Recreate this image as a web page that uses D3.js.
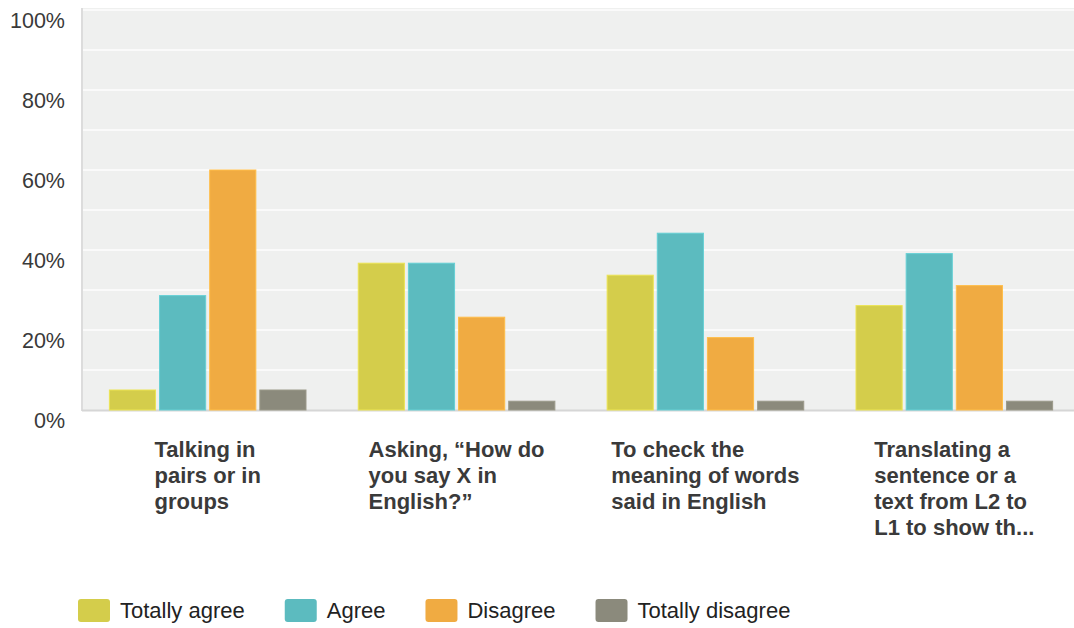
<!DOCTYPE html>
<html>
<head>
<meta charset="utf-8">
<script src="https://cdn.jsdelivr.net/npm/d3@7"></script>
<style>
  html, body { margin: 0; padding: 0; background: #ffffff; }
  svg { display: block; }
  text { font-family: "Liberation Sans", Arial, Helvetica, sans-serif; }
</style>
</head>
<body>
<svg id="chart" width="1074" height="628"></svg>
<script>
// Survey statements (each label is split into its wrapped lines)
const categories = [
  ["Talking in", "pairs or in", "groups"],
  ["Asking, \u201CHow do", "you say X in", "English?\u201D"],
  ["To check the", "meaning of words", "said in English"],
  ["Translating a", "sentence or a", "text from L2 to", "L1 to show th..."]
];
const seriesNames = ["Totally agree", "Agree", "Disagree", "Totally disagree"];
const seriesColors = ["#d4cd4b", "#5cbbbf", "#f0ab42", "#8b8a7c"];

// Percentage of respondents per statement, one array per answer
const totallyAgree    = [5.0, 36.7, 33.7, 26.1];
const agree           = [28.6, 36.7, 44.2, 39.1];
const disagree        = [60.0, 23.2, 18.1, 31.1];
const totallyDisagree = [5.0, 2.2, 2.2, 2.2];

const yTicks = [0, 20, 40, 60, 80, 100];
const yGrid = [10, 20, 30, 40, 50, 60, 70, 80, 90, 100];

const seriesValues = [totallyAgree, agree, disagree, totallyDisagree];

const svg = d3.select("#chart");
const plot = { left: 82, right: 1074, top: 8, bottom: 410 };

const x0 = d3.scaleBand()
  .domain(d3.range(categories.length))
  .range([plot.left, 1080])
  .paddingInner(0.21)
  .paddingOuter(0.11);

const x1 = d3.scaleBand()
  .domain(d3.range(seriesNames.length))
  .range([0, x0.bandwidth()])
  .paddingInner(0.08)
  .paddingOuter(0);

const y = d3.scaleLinear().domain([0, 100]).range([410, 10]);

// plot background
svg.append("rect")
  .attr("x", plot.left).attr("y", plot.top)
  .attr("width", plot.right - plot.left).attr("height", plot.bottom - plot.top)
  .attr("fill", "#eff0ef");

// horizontal grid lines
svg.append("g").selectAll("line").data(yGrid).join("line")
  .attr("x1", plot.left).attr("x2", plot.right)
  .attr("y1", d => y(d)).attr("y2", d => y(d))
  .attr("stroke", "#fafafa").attr("stroke-width", 2);

// left and bottom frame
svg.append("line")
  .attr("x1", plot.left).attr("x2", plot.left)
  .attr("y1", plot.top).attr("y2", plot.bottom + 1)
  .attr("stroke", "#dcdcdc").attr("stroke-width", 2);
svg.append("line")
  .attr("x1", plot.left).attr("x2", plot.right)
  .attr("y1", plot.bottom + 0.5).attr("y2", plot.bottom + 0.5)
  .attr("stroke", "#d6d6d6").attr("stroke-width", 2);

// y axis tick labels
const yAxis = d3.axisLeft(y).tickValues(yTicks).tickFormat(d => d + "%").tickSize(0).tickPadding(0);
const yg = svg.append("g").attr("transform", `translate(65,0)`).call(yAxis);
yg.select(".domain").remove();
yg.selectAll("text")
  .attr("dy", null)
  .attr("y", 17.5)
  .attr("font-size", 21.5)
  .attr("fill", "#3a3a3a")
  .attr("font-family", "\"Liberation Sans\", Arial, sans-serif");

// bars
const groups = svg.append("g").selectAll("g")
  .data(categories.map((c, i) => i))
  .join("g")
  .attr("transform", i => `translate(${x0(i)},0)`);

groups.selectAll("rect")
  .data(i => seriesValues.map((vals, s) => ({ s, v: vals[i] })))
  .join("rect")
  .attr("x", d => x1(d.s))
  .attr("width", x1.bandwidth())
  .attr("y", d => y(d.v))
  .attr("height", d => y(0) - y(d.v))
  .attr("fill", d => seriesColors[d.s])
  .attr("stroke", d => d3.color(seriesColors[d.s]).brighter(0.3))
  .attr("stroke-width", 1);

// category labels: left-aligned lines, block centred on its group
const labels = svg.append("g").selectAll("text")
  .data(categories.map((lines, i) => ({ lines, i })))
  .join("text")
  .attr("font-size", 22)
  .attr("font-weight", "bold")
  .attr("fill", "#3a3a3a")
  .attr("text-anchor", "start");

labels.each(function(d) {
  const t = d3.select(this);
  d.lines.forEach((line, k) => {
    t.append("tspan").attr("y", 457 + k * 26).text(line);
  });
  const w = d3.max(t.selectAll("tspan").nodes(), n => n.getComputedTextLength());
  const cx = x0(d.i) + x0.bandwidth() / 2;
  t.selectAll("tspan").attr("x", cx - w / 2);
});

// legend
const legend = svg.append("g");
let lx = 78;
seriesNames.forEach((name, s) => {
  legend.append("rect")
    .attr("x", lx).attr("y", 599)
    .attr("width", 32).attr("height", 23)
    .attr("rx", 3).attr("ry", 3)
    .attr("fill", seriesColors[s]);
  const t = legend.append("text")
    .attr("x", lx + 42).attr("y", 618)
    .attr("font-size", 22)
    .attr("fill", "#222")
    .text(name);
  lx += 42 + t.node().getComputedTextLength() + 40;
});
</script>
</body>
</html>
